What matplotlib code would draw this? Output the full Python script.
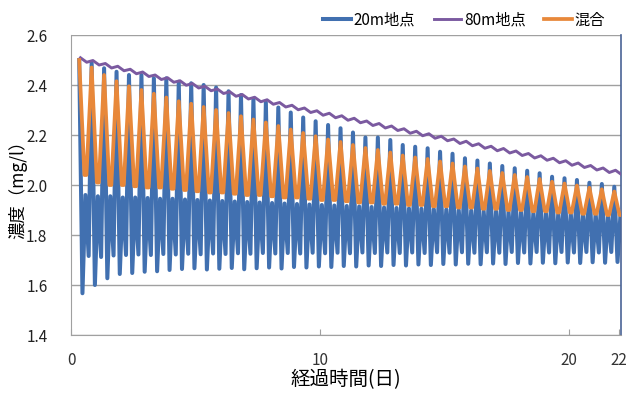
import matplotlib
matplotlib.use("Agg")
import matplotlib.pyplot as plt
import numpy as np

plt.rcParams['font.family'] = ['Noto Sans CJK JP', 'DejaVu Sans']

# times (days) of each tidal peak
peak_day = [0.33, 0.83, 1.33, 1.83, 2.33, 2.83, 3.33, 3.83, 4.33, 4.83, 5.33,
            5.83, 6.33, 6.83, 7.33, 7.83, 8.33, 8.83, 9.33, 9.83, 10.33, 10.83,
            11.33, 11.83, 12.33, 12.83, 13.33, 13.83, 14.33, 14.83, 15.33, 15.83,
            16.33, 16.83, 17.33, 17.83, 18.33, 18.83, 19.33, 19.83, 20.33, 20.83,
            21.33, 21.83]

# 20m地点: peak, deep trough, middle bump, shallow trough for each cycle
p20_peak = [2.500, 2.487, 2.467, 2.453, 2.440, 2.440, 2.427, 2.427, 2.413, 2.407, 2.400,
            2.390, 2.375, 2.360, 2.345, 2.330, 2.310, 2.290, 2.270, 2.255, 2.240, 2.227,
            2.210, 2.190, 2.190, 2.180, 2.160, 2.153, 2.147, 2.133, 2.125, 2.107,
            2.098, 2.086, 2.076, 2.067, 2.057, 2.047, 2.033, 2.027, 2.020, 2.009,
            2.004, 1.993]
p20_deep = [1.567, 1.600, 1.627, 1.644, 1.648, 1.653, 1.655, 1.660, 1.664, 1.667, 1.662,
            1.665, 1.668, 1.663, 1.667, 1.670, 1.666, 1.672, 1.670, 1.674, 1.672, 1.676,
            1.674, 1.678, 1.676, 1.680, 1.678, 1.682, 1.680, 1.684, 1.682, 1.685,
            1.683, 1.686, 1.684, 1.688, 1.686, 1.689, 1.687, 1.690, 1.688, 1.691,
            1.689, 1.692]
p20_mid = [1.960, 1.955, 1.955, 1.950, 1.950, 1.948, 1.945, 1.945, 1.942, 1.940, 1.938,
           1.936, 1.934, 1.932, 1.930, 1.928, 1.926, 1.924, 1.922, 1.920, 1.918, 1.916,
           1.914, 1.912, 1.910, 1.908, 1.906, 1.905, 1.903, 1.902, 1.900, 1.898,
           1.897, 1.895, 1.894, 1.892, 1.891, 1.890, 1.888, 1.887, 1.886, 1.885,
           1.884, 1.883]
p20_shallow = [1.716, 1.712, 1.718, 1.720, 1.722, 1.720, 1.724, 1.722, 1.725, 1.723, 1.726,
               1.724, 1.727, 1.725, 1.728, 1.726, 1.728, 1.726, 1.729, 1.727, 1.729, 1.727,
               1.730, 1.728, 1.730, 1.728, 1.730, 1.728, 1.731, 1.729, 1.731, 1.729,
               1.731, 1.729, 1.732, 1.730, 1.732, 1.730, 1.732, 1.730, 1.732, 1.730,
               1.732, 1.730]

# 80m地点: crest and trough of the small wiggle
p80_high = [2.509, 2.498, 2.486, 2.475, 2.463, 2.452, 2.440, 2.429, 2.417, 2.406, 2.395,
            2.384, 2.373, 2.362, 2.351, 2.341, 2.330, 2.319, 2.308, 2.297, 2.287, 2.277,
            2.267, 2.256, 2.246, 2.236, 2.225, 2.215, 2.205, 2.195, 2.184, 2.175,
            2.165, 2.155, 2.146, 2.136, 2.126, 2.117, 2.107, 2.097, 2.088, 2.078,
            2.068, 2.059]
p80_low = [2.491, 2.480, 2.468, 2.457, 2.445, 2.434, 2.422, 2.411, 2.399, 2.388, 2.377,
           2.366, 2.355, 2.344, 2.333, 2.323, 2.312, 2.301, 2.290, 2.279, 2.269, 2.259,
           2.249, 2.238, 2.228, 2.218, 2.207, 2.197, 2.187, 2.177, 2.166, 2.157,
           2.147, 2.137, 2.128, 2.118, 2.108, 2.099, 2.089, 2.079, 2.070, 2.060,
           2.050, 2.041]

# 混合: peak and trough of each cycle
mix_peak = [2.500, 2.470, 2.440, 2.415, 2.395, 2.380, 2.365, 2.350, 2.335, 2.325, 2.312,
            2.300, 2.288, 2.275, 2.262, 2.250, 2.236, 2.222, 2.208, 2.195, 2.182, 2.172,
            2.160, 2.148, 2.140, 2.130, 2.118, 2.110, 2.104, 2.094, 2.086, 2.074,
            2.066, 2.056, 2.048, 2.040, 2.032, 2.024, 2.013, 2.006, 1.998, 1.989,
            1.983, 1.974]
mix_low = [2.040, 2.010, 2.000, 2.000, 1.995, 1.990, 1.990, 1.985, 1.980, 1.975, 1.970,
           1.970, 1.965, 1.960, 1.960, 1.955, 1.950, 1.950, 1.945, 1.940, 1.940, 1.935,
           1.930, 1.930, 1.925, 1.925, 1.920, 1.920, 1.915, 1.915, 1.910, 1.910,
           1.905, 1.905, 1.900, 1.900, 1.895, 1.895, 1.890, 1.890, 1.885, 1.885,
           1.880, 1.880]

series_names = ['20m地点', '80m地点', '混合']
colors = ['#4170b0', '#7b5aa0', '#e8883a']

t = np.array(peak_day)

# 20m: peak -> deep trough -> bump -> shallow trough -> next peak
x20 = np.column_stack([t, t + 0.13, t + 0.25, t + 0.38]).ravel()
y20 = np.column_stack([p20_peak, p20_deep, p20_mid, p20_shallow]).ravel()

x80 = np.column_stack([t + 0.05, t + 0.30]).ravel()
y80 = np.column_stack([p80_high, p80_low]).ravel()

xmix = np.column_stack([t, t + 0.21, t + 0.29]).ravel()
ymix = np.column_stack([mix_peak, mix_low, mix_low]).ravel()

fig = plt.figure(figsize=(6.27, 4.04), dpi=100)
ax = fig.add_axes([71 / 627, 1 - 335 / 404, 550 / 627, 300 / 404])

ax.plot(x20, y20, color=colors[0], lw=2.9, label=series_names[0], zorder=2)
ax.plot(x80, y80, color=colors[1], lw=2.1, label=series_names[1], zorder=3)
ax.plot(xmix, ymix, color=colors[2], lw=2.7, label=series_names[2], zorder=4)

ax.set_xlim(0, 22.1)
ax.set_ylim(1.4, 2.6)
yt = np.arange(1.4, 2.61, 0.2)
ax.set_yticks(yt)
ax.set_yticklabels([f"{v:.1f}" for v in yt])
ax.set_xticks([0, 10, 20, 22])
ax.grid(axis='y', color='#a0a0a0', lw=1.0)
ax.set_axisbelow(True)

ax.tick_params(axis='y', length=0, pad=17, labelsize=11, labelcolor='#222222')
ax.tick_params(axis='x', direction='in', length=4, color='#a0a0a0', pad=12,
               labelsize=11, labelcolor='#333333')
for s in ['left', 'bottom']:
    ax.spines[s].set_color('#a0a0a0')
ax.spines['top'].set_visible(False)
ax.spines['right'].set_color('#4a6496')
ax.spines['right'].set_linewidth(1.2)

ax.set_ylabel('濃度（mg/l）', fontsize=12.5)
ax.yaxis.set_label_coords(-0.08, 0.5)
ax.set_xlabel('経過時間(日)', fontsize=14, labelpad=0)

fig.legend(loc='upper right', bbox_to_anchor=(613 / 627, 0.99), ncol=3, frameon=False,
           fontsize=11, handlelength=1.8, columnspacing=1.2, handletextpad=0.2,
           borderpad=0)

fig.savefig('out.png', dpi=100)
